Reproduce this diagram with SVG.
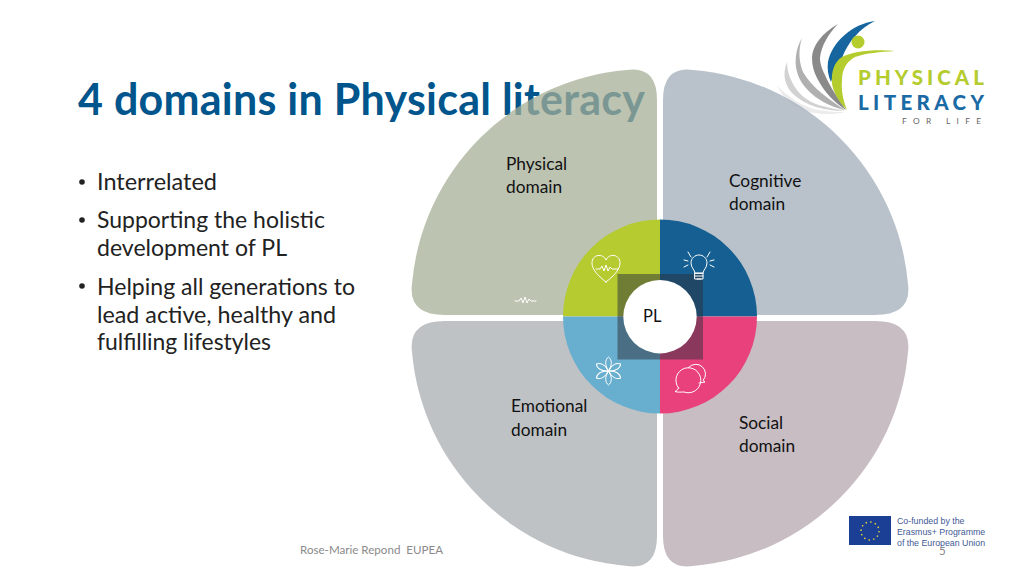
<svg xmlns="http://www.w3.org/2000/svg" width="1024" height="576" viewBox="0 0 1024 576">
<style>
text{font-family:"Lato","Liberation Sans",sans-serif}
.b{font-size:23px;fill:#222}
.l{font-size:17.300px;fill:#111}
.ic{fill:none;stroke:#fff;stroke-width:1;stroke-linecap:round;stroke-linejoin:round}
.eu{font-family:"Liberation Sans",sans-serif;font-size:8.800px;fill:#3f5a96}
.ft{font-size:11.600px;fill:#8a8a8a;white-space:pre}
</style>
<rect width="1024" height="576" fill="#fff"/>
<g id="logo">
<path d="M777 85C785 105 812 120 845 112C825 112 805 110 788 95C783 92 780 89 777 85Z" fill="#ececec"/>
<path d="M787 62C782 75 785 85 792 93C805 106 825 111 845 111C830 108 815 105 808 100C800 95 795 88 792 82C789 76 787 70 787 62Z" fill="#d2d2d2"/>
<path d="M802 38C795 50 794 64 798 75C804 92 825 106 845 110C830 100 812 88 803 72C799 62 798 50 802 38Z" fill="#b0b0b0"/>
<path d="M838 24C822 33 812 46 812 58C812 66 814 72 817 78C824 92 835 103 846 110C838 98 830 87 825 75C821 67 820 62 820 58C821 46 829 33 838 24Z" fill="#8a8a8a"/>
<path d="M875 21C852 24 832 42 828 62C827 68 828 76 831 82C834 72 838 64 842 58C848 42 860 28 875 21Z" fill="#16659f"/>
<circle cx="858" cy="42" r="6.500" fill="#b5cc2e"/>
<path d="M895 51C872 49 852 52 842 57C834 62 831 72 832 84C834 94 840 103 847 110C843 100 841 90 842 80C842 70 846 62 855 57C866 53 880 52 895 51Z" fill="#b5cc2e"/>
<text x="858" y="85" font-size="20.500" font-weight="900" textLength="126" fill="#b5cc2e">PHYSICAL</text>
<text x="858" y="109.500" font-size="20.500" font-weight="900" textLength="126" fill="#1a6aa5">LITERACY</text>
<text x="902" y="123.500" font-size="8.300" textLength="79" fill="#666">FOR LIFE</text>
</g>
<g id="title"><text x="78" y="115" font-size="43" font-weight="700" textLength="567" fill="#00558c">4 domains in Physical literacy</text></g>
<g id="bullets">
<circle cx="82" cy="182" r="2.800" fill="#222"/><text class="b" x="97" y="190" textLength="120" lengthAdjust="spacingAndGlyphs">Interrelated</text>
<circle cx="82" cy="220" r="2.800" fill="#222"/><text class="b" x="97" y="228" textLength="228" lengthAdjust="spacingAndGlyphs">Supporting the holistic</text>
<text class="b" x="97" y="256" textLength="190" lengthAdjust="spacingAndGlyphs">development of PL</text>
<circle cx="82" cy="286" r="2.800" fill="#222"/><text class="b" x="97" y="295" textLength="258" lengthAdjust="spacingAndGlyphs">Helping all generations to</text>
<text class="b" x="97" y="323" textLength="239" lengthAdjust="spacingAndGlyphs">lead active, healthy and</text>
<text class="b" x="97" y="350" textLength="174" lengthAdjust="spacingAndGlyphs">fulfilling lifestyles</text>
</g>
<g id="physical"><path d="M627 70Q657 66 657 100L657 315L445 315Q408 315 412 284A235 235 0 0 1 627 70Z" fill="#a5ae96" fill-opacity=".74"/><text class="l"><tspan x="506" y="170">Physical</tspan><tspan x="506" y="193">domain</tspan></text></g>
<g id="cognitive"><path d="M693 70Q663 66 663 100L663 315L875 315Q912 315 908 284A235 235 0 0 0 693 70Z" fill="#a0adb9" fill-opacity=".74"/><text class="l"><tspan x="729" y="187">Cognitive</tspan><tspan x="729" y="210">domain</tspan></text></g>
<g id="emotional"><path d="M627 566Q657 570 657 536L657 321L445 321Q408 321 412 352A235 235 0 0 0 627 566Z" fill="#bfc2c5"/><text class="l"><tspan x="511" y="412">Emotional</tspan><tspan x="511" y="436">domain</tspan></text></g>
<g id="social"><path d="M693 566Q663 570 663 536L663 321L875 321Q912 321 908 352A235 235 0 0 1 693 566Z" fill="#c8bdc2"/><text class="l"><tspan x="739" y="429">Social</tspan><tspan x="739" y="452">domain</tspan></text></g>
<g id="hub">
<path d="M660 316.500L660 219.500A97 97 0 0 0 563 316.500Z" fill="#b5cb30"/>
<path d="M660 316.500L660 219.500A97 97 0 0 1 757 316.500Z" fill="#155f92"/>
<path d="M660 316.500L563 316.500A97 97 0 0 0 660 413.500Z" fill="#68aecf"/>
<path d="M660 316.500L757 316.500A97 97 0 0 1 660 413.500Z" fill="#e9417c"/>
<rect x="617.500" y="274" width="85.500" height="85.500" fill="#2b2f3a" fill-opacity=".5"/>
<circle cx="660" cy="316.700" r="36.700" fill="#fff"/>
<text x="643" y="322" font-size="16.500" fill="#111">PL</text>
<path class="ic" d="M606 282C597 275 592 269 592 263C592 254 603 253 606 260C609 253 620 254 620 263C620 269 615 275 606 282Z"/>
<path class="ic" d="M596 269H600L602 266L604 271L606 265L608 271L610 267L612 269H618"/>
<path class="ic" d="M515 301H519L521 298L523 303L525 297L527 303L529 299L531 301H536" stroke-width=".8"/>
<g class="ic" stroke-width=".9"><path d="M695 273C695 270 691 268 691 263C691 258 695 255 699 255C703 255 707 258 707 263C707 268 703 270 703 273Z"/><path d="M695 273H703V279H695ZM695 276H703M697 279H701"/><path d="M688 252L691 257M710 252L707 257M684 260L688 261M714 260L710 261M684 267L688 265M714 267L710 265"/></g>
<g class="ic"><path d="M608.500 371C604.500 365 605 359.500 608.500 357C612 359.500 612.500 365 608.500 371Z"/><path d="M608.500 371C604.500 365 605 359.500 608.500 357C612 359.500 612.500 365 608.500 371Z" transform="rotate(60 608.500 371)"/><path d="M608.500 371C604.500 365 605 359.500 608.500 357C612 359.500 612.500 365 608.500 371Z" transform="rotate(120 608.500 371)"/><path d="M608.500 371C604.500 365 605 359.500 608.500 357C612 359.500 612.500 365 608.500 371Z" transform="rotate(180 608.500 371)"/><path d="M608.500 371C604.500 365 605 359.500 608.500 357C612 359.500 612.500 365 608.500 371Z" transform="rotate(240 608.500 371)"/><path d="M608.500 371C604.500 365 605 359.500 608.500 357C612 359.500 612.500 365 608.500 371Z" transform="rotate(300 608.500 371)"/></g>
<g class="ic"><path d="M678.500 388A12.500 12.500 0 1 1 684 392C681 392 678 392.500 675 391.500C677 390.500 678 389.500 678.500 388Z"/><path d="M688.500 367.500A9.700 9.700 0 0 1 703 380.500L705 382L699 383"/></g>
</g>
<g id="eu">
<rect x="849" y="516" width="42" height="29" fill="#1b3f94"/>
<circle cx="870" cy="531" r="9" fill="none" stroke="#e6d534" stroke-width="1.400" stroke-dasharray="1.500 3.200"/>
<text class="eu"><tspan x="897" y="524">Co-funded by the</tspan><tspan x="897" y="535">Erasmus+ Programme</tspan><tspan x="897" y="546">of the European Union</tspan></text>
</g>
<g id="footer"><text class="ft" x="300" y="554" xml:space="preserve">Rose-Marie Repond  EUPEA</text><text class="ft" x="939" y="555">5</text></g>
</svg>
